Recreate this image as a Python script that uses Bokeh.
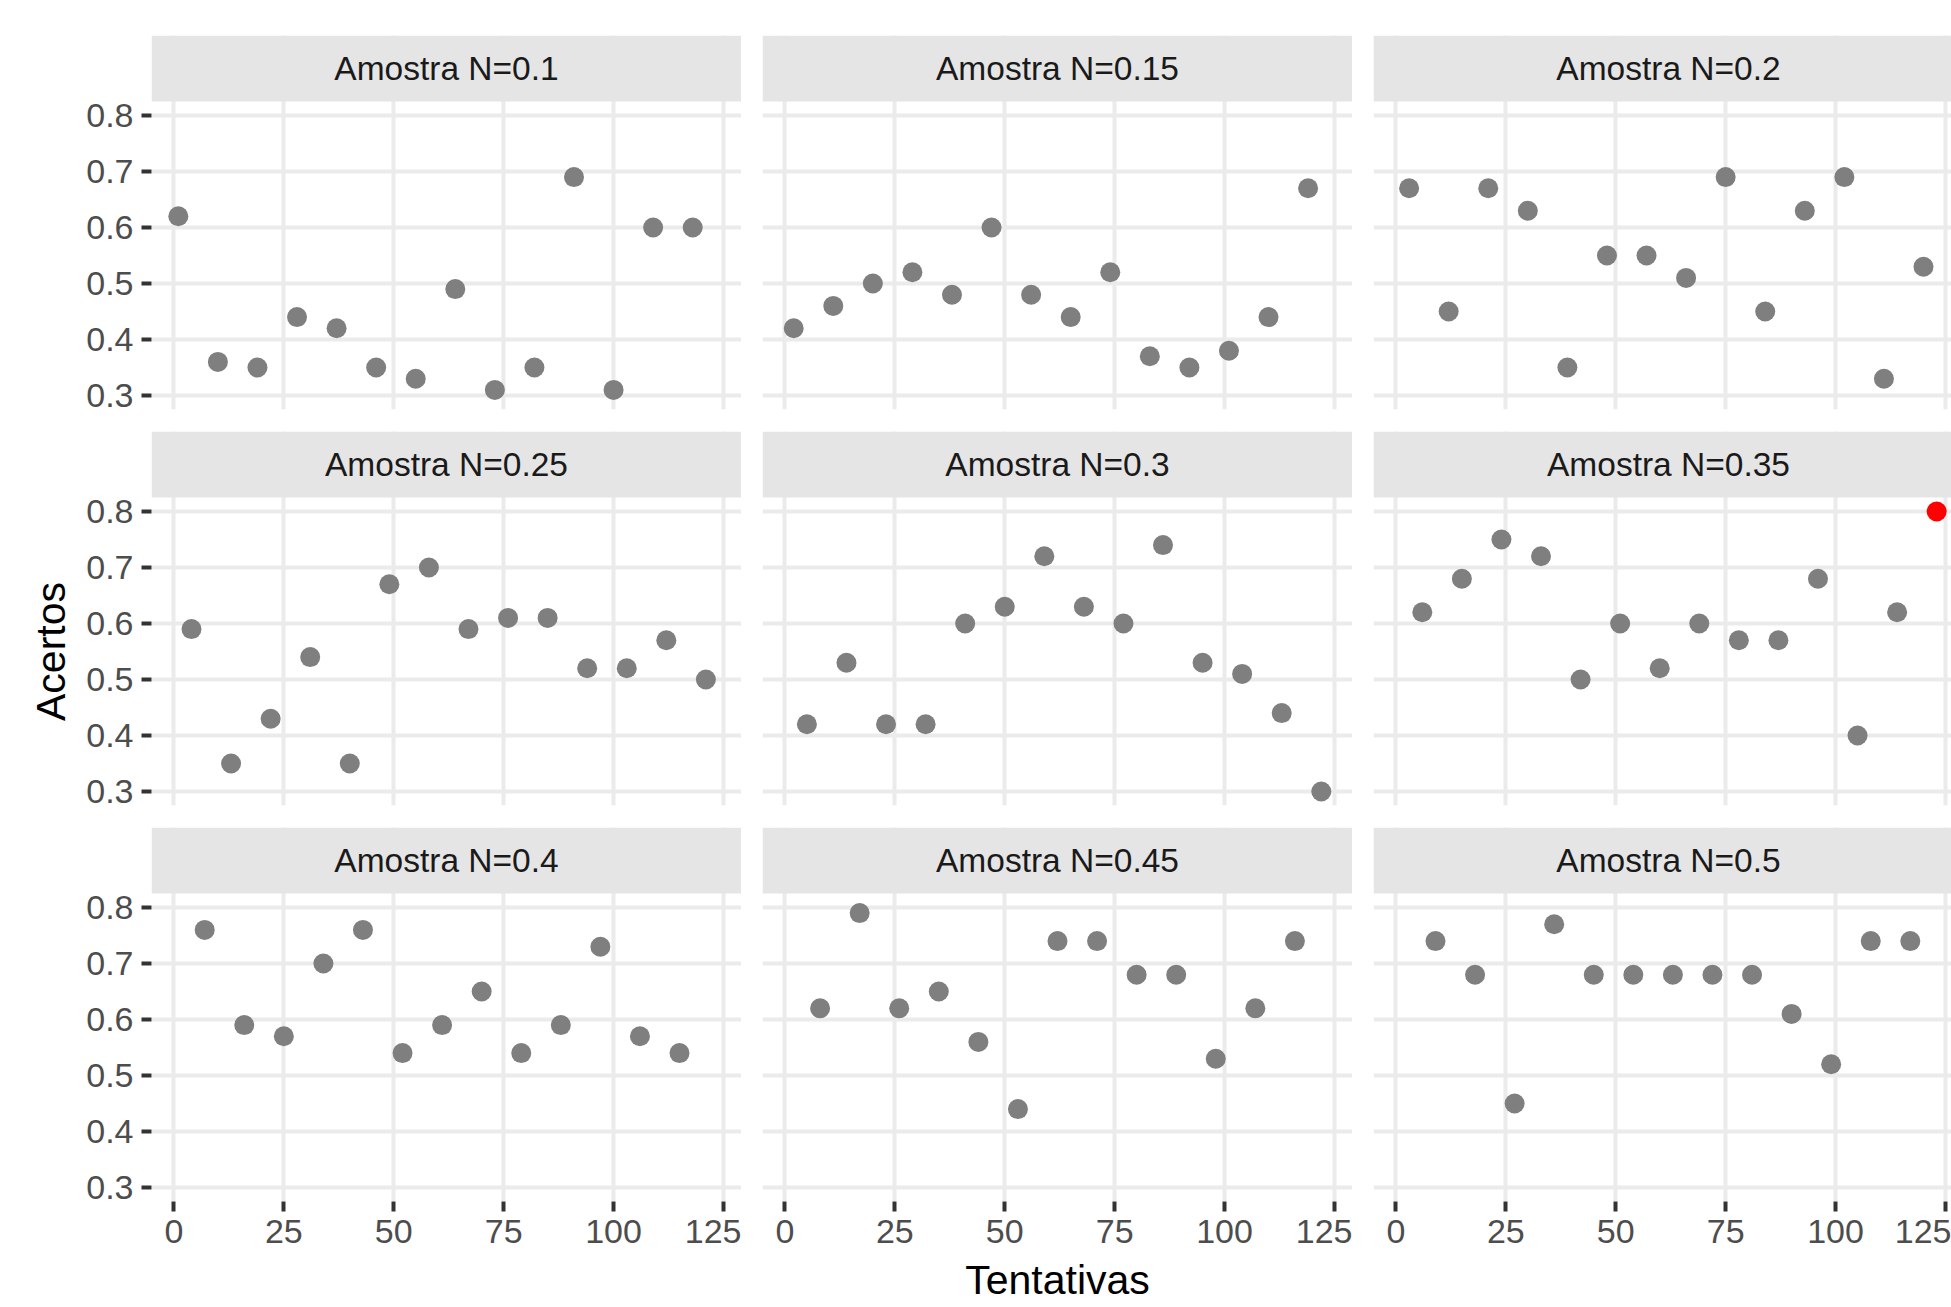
import math
from bokeh.plotting import figure
from bokeh.layouts import column, row
from bokeh.models import Range1d, FixedTicker, ColumnDataSource
from bokeh.core.properties import value
from bokeh.embed import file_html
from bokeh.resources import INLINE

# ---------------- data ----------------
amostras = ["Amostra N=0.1", "Amostra N=0.15", "Amostra N=0.2",
            "Amostra N=0.25", "Amostra N=0.3", "Amostra N=0.35",
            "Amostra N=0.4", "Amostra N=0.45", "Amostra N=0.5"]

tent_01 = [1, 10, 19, 28, 37, 46, 55, 64, 73, 82, 91, 100, 109, 118]
acer_01 = [0.62, 0.36, 0.35, 0.44, 0.42, 0.35, 0.33, 0.49, 0.31, 0.35, 0.69, 0.31, 0.60, 0.60]
tent_015 = [2, 11, 20, 29, 38, 47, 56, 65, 74, 83, 92, 101, 110, 119]
acer_015 = [0.42, 0.46, 0.50, 0.52, 0.48, 0.60, 0.48, 0.44, 0.52, 0.37, 0.35, 0.38, 0.44, 0.67]
tent_02 = [3, 12, 21, 30, 39, 48, 57, 66, 75, 84, 93, 102, 111, 120]
acer_02 = [0.67, 0.45, 0.67, 0.63, 0.35, 0.55, 0.55, 0.51, 0.69, 0.45, 0.63, 0.69, 0.33, 0.53]
tent_025 = [4, 13, 22, 31, 40, 49, 58, 67, 76, 85, 94, 103, 112, 121]
acer_025 = [0.59, 0.35, 0.43, 0.54, 0.35, 0.67, 0.70, 0.59, 0.61, 0.61, 0.52, 0.52, 0.57, 0.50]
tent_03 = [5, 14, 23, 32, 41, 50, 59, 68, 77, 86, 95, 104, 113, 122]
acer_03 = [0.42, 0.53, 0.42, 0.42, 0.60, 0.63, 0.72, 0.63, 0.60, 0.74, 0.53, 0.51, 0.44, 0.30]
tent_035 = [6, 15, 24, 33, 42, 51, 60, 69, 78, 87, 96, 105, 114, 123]
acer_035 = [0.62, 0.68, 0.75, 0.72, 0.50, 0.60, 0.52, 0.60, 0.57, 0.57, 0.68, 0.40, 0.62, 0.80]
tent_04 = [7, 16, 25, 34, 43, 52, 61, 70, 79, 88, 97, 106, 115]
acer_04 = [0.76, 0.59, 0.57, 0.70, 0.76, 0.54, 0.59, 0.65, 0.54, 0.59, 0.73, 0.57, 0.54]
tent_045 = [8, 17, 26, 35, 44, 53, 62, 71, 80, 89, 98, 107, 116]
acer_045 = [0.62, 0.79, 0.62, 0.65, 0.56, 0.44, 0.74, 0.74, 0.68, 0.68, 0.53, 0.62, 0.74]
tent_05 = [9, 18, 27, 36, 45, 54, 63, 72, 81, 90, 99, 108, 117]
acer_05 = [0.74, 0.68, 0.45, 0.77, 0.68, 0.68, 0.68, 0.68, 0.68, 0.61, 0.52, 0.74, 0.74]

x_ticks = [0, 25, 50, 75, 100, 125]
y_ticks = [0.3, 0.4, 0.5, 0.6, 0.7, 0.8]

tentativas = [tent_01, tent_015, tent_02, tent_025, tent_03, tent_035, tent_04, tent_045, tent_05]
acertos = [acer_01, acer_015, acer_02, acer_025, acer_03, acer_035, acer_04, acer_045, acer_05]

# ---------------- scales ----------------
all_x = [v for t in tentativas for v in t]
all_y = [v for a in acertos for v in a]
xpad = 0.05 * (max(all_x) - min(all_x))
ypad = 0.05 * (max(all_y) - min(all_y))
X0, X1 = min(all_x) - xpad, max(all_x) + xpad
Y0, Y1 = min(all_y) - ypad, max(all_y) + ypad
y_max = max(all_y)

FONT = "Liberation Sans"
TITLE_W = 80          # strip of page holding the y-axis title
LEFT = 151 - TITLE_W
GAP = 21
FW = 590
FW_LAST = 578
FH = 308
VGAP = 22
BOTTOM = 106
STRIP_H = 66
TOP = 35
TOTAL_H = TOP + 3 * (STRIP_H + FH) + 2 * VGAP + BOTTOM

# strip height expressed in data units of the y scale
Y_STRIP = Y1 + STRIP_H * (Y1 - Y0) / FH


def col_geom(c):
    left = LEFT if c == 0 else GAP
    fw = FW if c < 2 else FW_LAST
    xend = X0 + (X1 - X0) * fw / FW
    return left, fw, xend


def make_panel(i, r, c):
    left, fw, xend = col_geom(c)
    top = TOP if r == 0 else 0
    bottom = VGAP if r < 2 else BOTTOM
    p = figure(width=left + fw, height=top + STRIP_H + FH + bottom,
               x_range=Range1d(X0, xend), y_range=Range1d(Y0, Y_STRIP),
               output_backend="svg", toolbar_location=None,
               x_axis_location="below" if r == 2 else None,
               y_axis_location="left" if c == 0 else None,
               min_border_left=left, min_border_right=0,
               min_border_top=top, min_border_bottom=bottom)
    p.background_fill_color = "white"
    p.border_fill_color = "white"
    p.outline_line_color = None
    p.xgrid.ticker = FixedTicker(ticks=x_ticks)
    p.ygrid.ticker = FixedTicker(ticks=y_ticks)
    p.grid.grid_line_color = "#EBEBEB"
    p.grid.grid_line_width = 4
    p.grid.minor_grid_line_color = None
    for ax in p.axis:
        ax.axis_line_color = None
        ax.major_tick_line_color = "#333333"
        ax.major_tick_line_width = 4
        ax.major_tick_out = 10
        ax.major_tick_in = 0
        ax.minor_tick_line_color = None
        ax.major_label_text_font = FONT
        ax.major_label_text_font_size = "34px"
        ax.major_label_text_color = "#4D4D4D"
        ax.axis_label_text_font = FONT
        ax.axis_label_text_font_size = "41px"
        ax.axis_label_text_font_style = "normal"
        ax.axis_label_text_color = "black"
    if r == 2:
        p.xaxis.ticker = FixedTicker(ticks=x_ticks)
        p.xaxis.major_label_standoff = 8
        if c == 1:
            p.xaxis.axis_label = "Tentativas"
            p.xaxis.axis_label_standoff = 11
    if c == 0:
        p.yaxis.ticker = FixedTicker(ticks=y_ticks)
        p.yaxis.major_label_standoff = 8

    # facet strip
    p.quad(left=X0, right=xend, bottom=Y1, top=Y_STRIP,
           fill_color="#E5E5E5", line_color=None)
    ssrc = ColumnDataSource(dict(x=[(X0 + X1) / 2], y=[(Y1 + Y_STRIP) / 2], t=[amostras[i]]))
    p.text(x="x", y="y", text="t", source=ssrc, text_align="center",
           text_baseline="middle", text_font=value(FONT),
           text_font_size=value("33.5px"), text_color="#1A1A1A")

    cores = ["#FF0000" if v == y_max else "#7F7F7F" for v in acertos[i]]
    src = ColumnDataSource(dict(x=tentativas[i], y=acertos[i], cor=cores))
    p.scatter(x="x", y="y", source=src, size=20, fill_color="cor", line_color=None)
    return p


# y-axis title: its own narrow canvas, measured in page pixels (top = 0)
ytitle = figure(width=TITLE_W, height=TOTAL_H,
                x_range=Range1d(0, TITLE_W), y_range=Range1d(TOTAL_H, 0),
                output_backend="svg", toolbar_location=None,
                x_axis_location=None, y_axis_location=None,
                min_border=0)
ytitle.outline_line_color = None
ytitle.grid.visible = False
ytitle.background_fill_color = "white"
ytitle.border_fill_color = "white"
mid_row2 = TOP + STRIP_H + FH + VGAP + STRIP_H + FH / 2
tsrc = ColumnDataSource(dict(x=[50], y=[mid_row2], t=["Acertos"]))
ytitle.text(x="x", y="y", text="t", source=tsrc, angle=math.pi / 2,
            text_align="center", text_baseline="middle",
            text_font=value(FONT), text_font_size=value("41px"),
            text_color="black")

rows = [row(*[make_panel(3 * r + c, r, c) for c in range(3)]) for r in range(3)]
layout = row(ytitle, column(*rows))
open("out.html", "w").write(file_html(layout, INLINE))
